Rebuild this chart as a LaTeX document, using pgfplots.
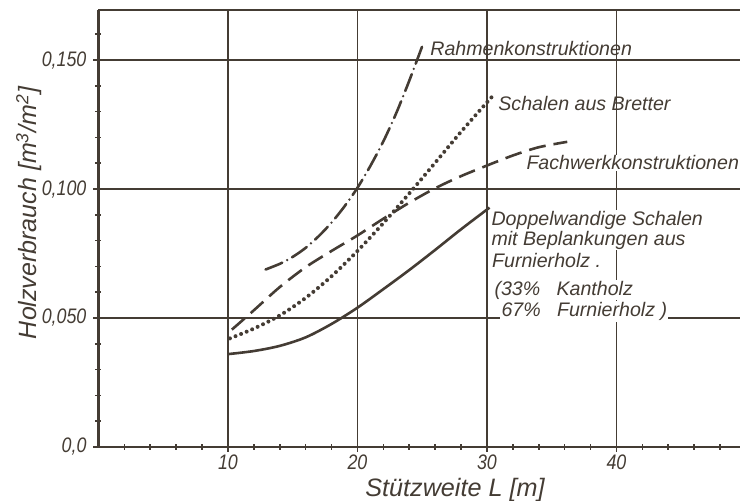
\documentclass[border=0pt]{standalone}
\usepackage{fontspec}
\setmainfont{Liberation Sans}
\newfontfamily\tickfont{Liberation Sans}[FakeStretch=0.85]
\usepackage{pgfplots}
\pgfplotsset{compat=1.18}
\definecolor{ink}{RGB}{68,60,52}
\newcommand\lab{\itshape\fontsize{9.8}{11}\selectfont}

\begin{document}
\begin{tikzpicture}
\useasboundingbox (-49.25pt,-27pt) rectangle (320.75pt,223.5pt);
\begin{axis}[
  at={(0,0)}, anchor=south west,
  scale only axis, width=320.75pt, height=218.5pt,
  xmin=0, xmax=49.54, ymin=0, ymax=0.1694,
  axis x line=box, axis y line=left,
  axis line style={-, ink, line width=1.4pt},
  xtick={10,20,30,40}, xticklabels={10,20,30,40},
  minor xtick={2,4,6,8,12,14,16,18,22,24,26,28,32,34,36,38,42,44,46,48},
  ytick={0,0.05,0.1,0.15}, yticklabels={{0,0},{0,050},{0,100},{0,150}},
  minor ytick={0.01,0.02,0.03,0.04,0.06,0.07,0.08,0.09,0.11,0.12,0.13,0.14,0.16},
  xtick pos=bottom, ytick pos=left,
  tick align=center, major tick length=5pt, minor tick length=3pt,
  every tick/.style={ink, line width=0.8pt},
  grid=major, major grid style={ink, line width=0.85pt},
  ticklabel style={font=\tickfont\itshape\fontsize{10.5}{11}\selectfont, text=ink},
  xticklabel style={yshift=2pt},
  xlabel={Stützweite L [m]},
  xlabel style={at={(axis description cs:0.5557,-0.1135)}, anchor=base, font=\itshape\fontsize{12.6}{13}\selectfont, text=ink},
  ylabel={Holzverbrauch [m\textsuperscript{3}/m\textsuperscript{2}]},
  ylabel style={at={(axis description cs:-0.0959,0.5355)}, anchor=base, rotate=0, font=\itshape\fontsize{12.5}{13}\selectfont, text=ink},
]
% Doppelwandige Schalen (solid)
\addplot[ink, line width=1.3pt, smooth] coordinates {
(10,0.0360) (12,0.0372) (14,0.0392) (16,0.0425) (18,0.0477) (20,0.0540)
(22,0.0612) (24,0.0686) (26,0.0764) (28,0.0844) (30.2,0.0928)};
% Fachwerkkonstruktionen (dashed)
\addplot[ink, line width=1.3pt, smooth, dash pattern=on 8.5pt off 4pt] coordinates {
(10.3,0.0455) (12,0.0530) (14,0.0620) (16,0.0697) (18,0.0760) (20,0.0820)
(22,0.0885) (24,0.0947) (26,0.1003) (28,0.1050) (30,0.1091) (32,0.1130)
(34,0.1162) (36.2,0.1183)};
% Schalen aus Bretter (dotted)
\addplot[ink, line width=2pt, smooth, line cap=round, dash pattern=on 0pt off 3pt] coordinates {
(10.15,0.0421) (12,0.0459) (14,0.0510) (16,0.0578) (18,0.0662) (20,0.0760)
(22,0.0868) (24,0.0983) (26,0.1102) (28,0.1222) (30,0.1336) (30.4,0.1358)};
% Rahmenkonstruktionen (dash-dot)
\addplot[ink, line width=1.3pt, smooth, line cap=round, dash pattern=on 9pt off 2.8pt on 0pt off 2.8pt] coordinates {
(12.9,0.0688) (14,0.0710) (15,0.0737) (16,0.0772) (17,0.0817) (18,0.0870)
(19,0.0933) (20,0.1005) (21,0.1090) (22,0.1185) (23,0.1295) (24,0.1420) (25.1,0.1567)};

\node[anchor=base west, inner sep=0pt, text=ink, font=\lab] at (axis cs:25.6,0.1519) {Rahmenkonstruktionen};
\node[anchor=base west, inner sep=0pt, text=ink, font=\lab] at (axis cs:30.85,0.1306) {Schalen aus Bretter};
\node[anchor=base west, inner sep=0.6pt, fill=white, text=ink, font=\lab] at (axis cs:32.93,0.1074) {Fachwerkkonstruktionen};
\node[anchor=base west, inner sep=0.6pt, fill=white, text=ink, font=\lab] at (axis cs:30.23,0.0860) {Doppelwandige Schalen};
\node[anchor=base west, inner sep=0.6pt, fill=white, text=ink, font=\lab] at (axis cs:30.23,0.0783) {mit Beplankungen aus};
\node[anchor=base west, inner sep=0.6pt, fill=white, text=ink, font=\lab] at (axis cs:30.28,0.0694) {Furnierholz .};
\node[anchor=base west, inner sep=0.6pt, fill=white, text=ink, font=\lab] at (axis cs:30.46,0.0589) {(33\%\ \ \ Kantholz};
\node[anchor=base west, inner sep=0.6pt, fill=white, text=ink, font=\lab] at (axis cs:31.0,0.0505) {67\%\ \ \ Furnierholz )};
\end{axis}
\end{tikzpicture}
\end{document}
